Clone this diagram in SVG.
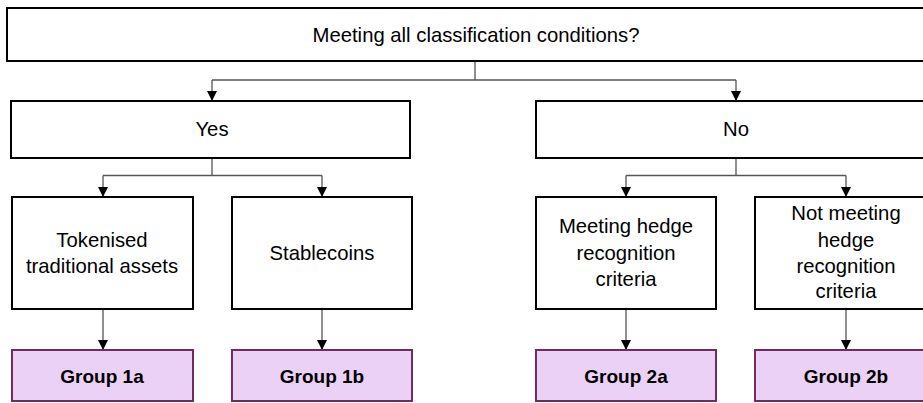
<svg xmlns="http://www.w3.org/2000/svg" width="923" height="403" viewBox="0 0 923 403">
<style>
.box{fill:#fff;stroke:#000;stroke-width:2}
.grp{fill:#ecd1f6;stroke:#722a60;stroke-width:2}
.t{font-family:"Liberation Sans",Arial,sans-serif;font-size:20.3px;fill:#000;text-anchor:middle}
.b{font-weight:bold;font-size:19px}
.c{fill:none;stroke:#555;stroke-width:1.3}
</style>
<defs>
<marker id="ah" viewBox="0 0 10 10" refX="10" refY="5" markerWidth="10" markerHeight="10" markerUnits="userSpaceOnUse" orient="auto">
<path d="M0,0 L10,5 L0,10 Z" fill="#000"/>
</marker>
</defs>
<g id="connectors">
<path class="c" d="M475,61 V80 M212,80 H736"/>
<path class="c" d="M212,80 V101" marker-end="url(#ah)"/>
<path class="c" d="M736,80 V101" marker-end="url(#ah)"/>
<path class="c" d="M212,158 V175.5 M103,175.5 H322"/>
<path class="c" d="M103,175.5 V197" marker-end="url(#ah)"/>
<path class="c" d="M322,175.5 V197" marker-end="url(#ah)"/>
<path class="c" d="M736,158 V175.5 M626,175.5 H846"/>
<path class="c" d="M626,175.5 V197" marker-end="url(#ah)"/>
<path class="c" d="M846,175.5 V197" marker-end="url(#ah)"/>
<path class="c" d="M103,309 V350" marker-end="url(#ah)"/>
<path class="c" d="M322,309 V350" marker-end="url(#ah)"/>
<path class="c" d="M626,309 V350" marker-end="url(#ah)"/>
<path class="c" d="M846,309 V350" marker-end="url(#ah)"/>
</g>
<g id="root"><rect class="box" x="7" y="8" width="930" height="53"/><text class="t" x="476" y="41.5">Meeting all classification conditions?</text></g>
<g id="yes"><rect class="box" x="11" y="101" width="399" height="57"/><text class="t" x="212" y="136">Yes</text></g>
<g id="no"><rect class="box" x="536" y="101" width="400" height="57"/><text class="t" x="736" y="136">No</text></g>
<g id="tokenised"><rect class="box" x="12" y="197" width="181" height="112"/><text class="t" x="102" y="247">Tokenised</text><text class="t" x="102" y="273">traditional assets</text></g>
<g id="stablecoins"><rect class="box" x="232" y="197" width="180" height="112"/><text class="t" x="322" y="260">Stablecoins</text></g>
<g id="meeting"><rect class="box" x="536" y="197" width="180" height="112"/><text class="t" x="626" y="233">Meeting hedge</text><text class="t" x="626" y="260">recognition</text><text class="t" x="626" y="286">criteria</text></g>
<g id="notmeeting"><rect class="box" x="755" y="197" width="180" height="112"/><text class="t" x="846" y="220">Not meeting</text><text class="t" x="846" y="247">hedge</text><text class="t" x="846" y="273">recognition</text><text class="t" x="846" y="298">criteria</text></g>
<g id="g1a"><rect class="grp" x="12" y="350" width="181" height="51"/><text class="t b" x="102" y="383">Group 1a</text></g>
<g id="g1b"><rect class="grp" x="232" y="350" width="180" height="51"/><text class="t b" x="322" y="383">Group 1b</text></g>
<g id="g2a"><rect class="grp" x="536" y="350" width="180" height="51"/><text class="t b" x="626" y="383">Group 2a</text></g>
<g id="g2b"><rect class="grp" x="755" y="350" width="180" height="51"/><text class="t b" x="846" y="383">Group 2b</text></g>
</svg>
